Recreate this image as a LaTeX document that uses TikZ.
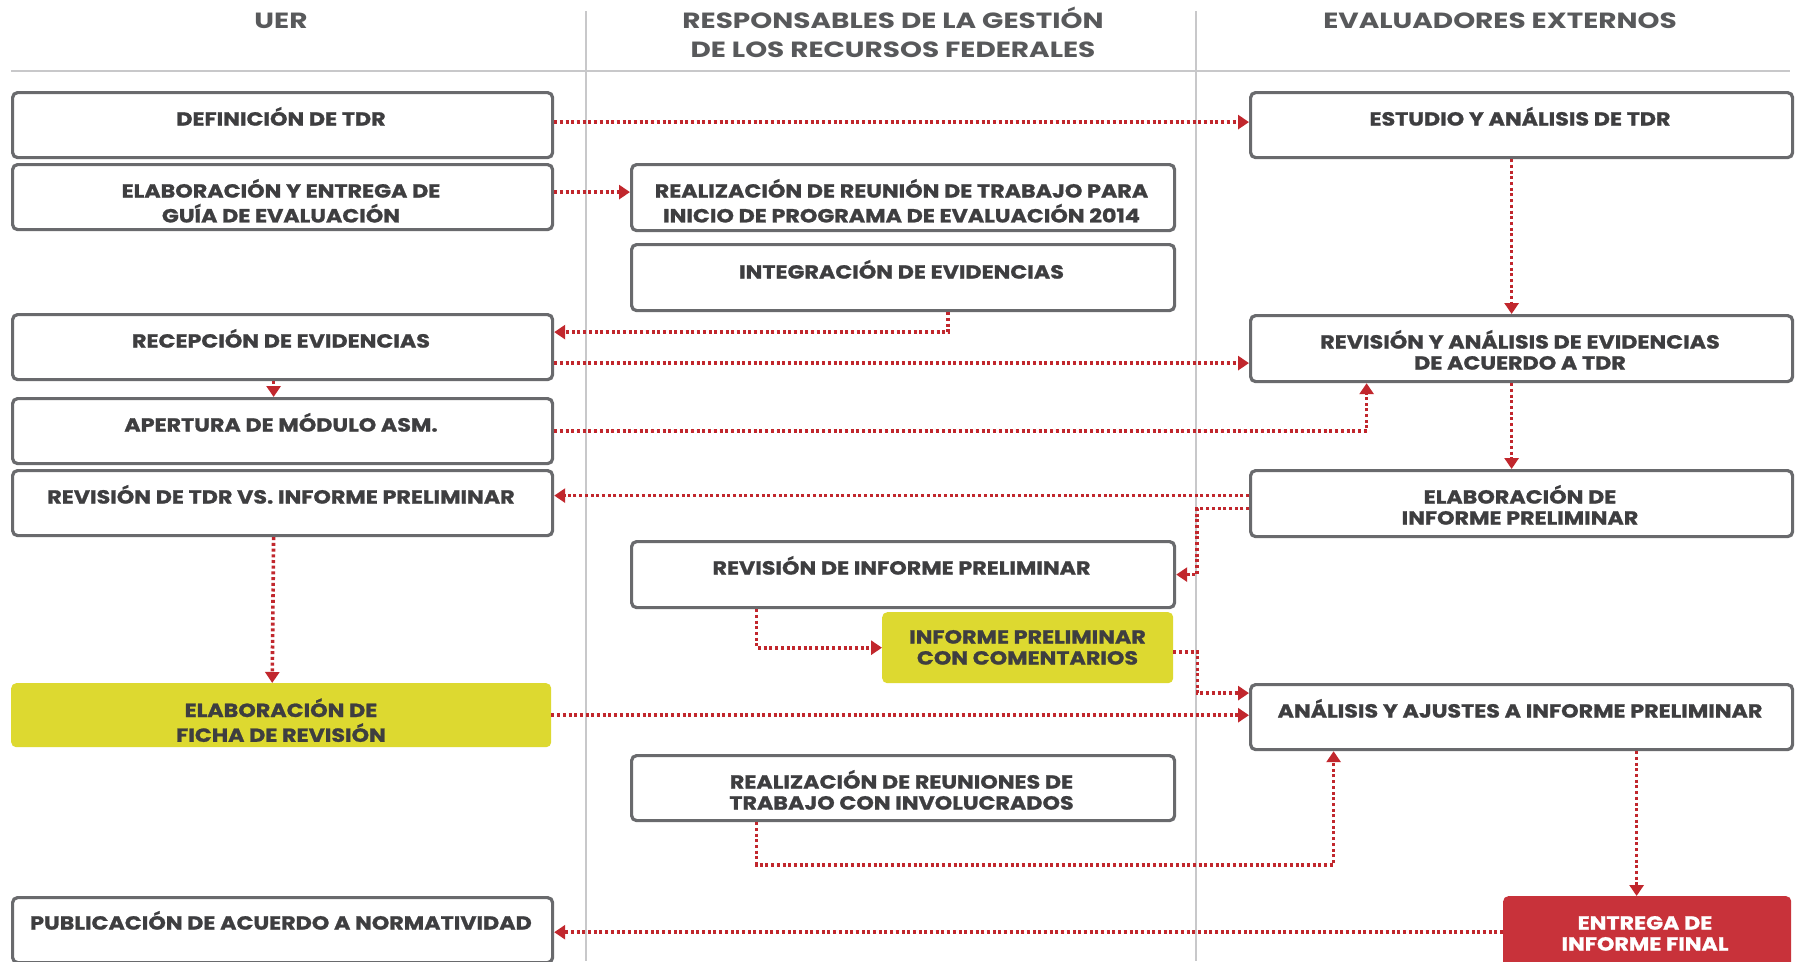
\documentclass[tikz,border=0pt]{standalone}
\usepackage{fontspec}
\setmainfont{Poppins}
\newfontfamily\bodyfont{Poppins}[FakeStretch=1.17, BoldFeatures={FakeBold=1.2}]
\newfontfamily\hdrfont{Poppins}[FakeStretch=1.27]
\usetikzlibrary{arrows.meta,calc}
\definecolor{boxgray}{RGB}{105,106,109}
\definecolor{txtgray}{RGB}{62,62,64}
\definecolor{hdrgray}{RGB}{88,89,91}
\definecolor{rulegray}{RGB}{200,200,202}
\definecolor{flowred}{RGB}{193,39,45}
\definecolor{boxyellow}{RGB}{221,217,48}
\definecolor{boxred}{RGB}{200,50,58}
\newcommand\mylines[1]{\begin{tabular}[t]{@{}c@{}}#1\end{tabular}}
\begin{document}
\begin{tikzpicture}[x=1pt,y=-1pt,
  stepbox/.style={draw=boxgray, line width=3.2pt, rounded corners=5pt, fill=white, inner sep=0pt, anchor=north west},
  ybox/.style={fill=boxyellow, rounded corners=5pt, inner sep=0pt, anchor=north west},
  rbox/.style={fill=boxred, rounded corners=5pt, inner sep=0pt, anchor=north west},
  lbl/.style={font=\bodyfont\fontsize{19}{21}\selectfont\bfseries, text=txtgray, anchor=base, inner sep=0pt},
  wlbl/.style={lbl, text=white},
  hdr/.style={font=\hdrfont\fontsize{22}{29}\selectfont\bfseries, text=hdrgray, anchor=base, inner sep=0pt},
  divider/.style={draw=rulegray, line width=2.5pt},
  flow/.style={draw=flowred, line width=3.6pt, dash pattern=on 3pt off 2.7pt, -{Triangle[length=11pt,width=14pt]}},
]
\useasboundingbox (0,0) rectangle (1796,961);
\clip (0,0) rectangle (1796,961);
\fill[white] (0,0) rectangle (1796,961);

% headers and dividers
\node[hdr] (h1) at (281,28) {UER};
\node[hdr] (h2) at (893,28) {\mylines{RESPONSABLES DE LA GESTIÓN\\DE LOS RECURSOS FEDERALES}};
\node[hdr] (h3) at (1500,28) {EVALUADORES EXTERNOS};
\coordinate (r1) at (11,71);
\coordinate (r2) at (1790,71);
\coordinate (v1t) at (586,11);
\coordinate (v1b) at (586,961);
\coordinate (v2t) at (1196,11);
\coordinate (v2b) at (1196,961);
\draw[divider] (r1) -- (r2);
\draw[divider] (v1t) -- (v1b);
\draw[divider] (v2t) -- (v2b);

% left column
\node[stepbox, minimum width=540pt, minimum height=65pt] (def) at (11,91) {};
\node[stepbox, minimum width=540pt, minimum height=65pt] (elab) at (11,163) {};
\node[stepbox, minimum width=540pt, minimum height=65pt] (rec) at (11,313) {};
\node[stepbox, minimum width=540pt, minimum height=65pt] (apert) at (11,397) {};
\node[stepbox, minimum width=540pt, minimum height=65pt] (revtdr) at (11,469) {};
\node[ybox, minimum width=540pt, minimum height=64pt] (ficha) at (11,683) {};
\node[stepbox, minimum width=540pt, minimum height=65pt] (publ) at (11,896) {};
% middle column
\node[stepbox, minimum width=543pt, minimum height=66pt] (reunion) at (630,163) {};
\node[stepbox, minimum width=543pt, minimum height=66pt] (integ) at (630,243) {};
\node[stepbox, minimum width=543pt, minimum height=66pt] (revinf) at (630,540) {};
\node[ybox, minimum width=291pt, minimum height=71pt] (coment) at (882,612) {};
\node[stepbox, minimum width=543pt, minimum height=65pt] (reunis) at (630,754) {};
% right column
\node[stepbox, minimum width=542pt, minimum height=65pt] (est) at (1249,91) {};
\node[stepbox, minimum width=542pt, minimum height=66pt] (revev) at (1249,314) {};
\node[stepbox, minimum width=542pt, minimum height=66pt] (elabinf) at (1249,469) {};
\node[stepbox, minimum width=542pt, minimum height=65pt] (anal) at (1249,683) {};
\node[rbox, minimum width=288pt, minimum height=72pt] (entrega) at (1503,896) {};

% labels
\node[lbl] (tdef) at (281,125.6) {DEFINICIÓN DE TDR};
\node[lbl] (telab) at (281,197.6) {\mylines{ELABORACIÓN Y ENTREGA DE\\GUÍA DE EVALUACIÓN}};
\node[lbl] (trec) at (281,347.6) {RECEPCIÓN DE EVIDENCIAS};
\node[lbl] (tapert) at (281,431.6) {APERTURA DE MÓDULO ASM.};
\node[lbl] (trevtdr) at (281,503.6) {REVISIÓN DE TDR VS. INFORME PRELIMINAR};
\node[lbl] (tficha) at (281,717) {\mylines{ELABORACIÓN DE\\FICHA DE REVISIÓN}};
\node[lbl] (tpubl) at (281,929.6) {PUBLICACIÓN DE ACUERDO A NORMATIVIDAD};
\node[lbl] (treunion) at (901.5,197.6) {\mylines{REALIZACIÓN DE REUNIÓN DE TRABAJO PARA\\INICIO DE PROGRAMA DE EVALUACIÓN 2014}};
\node[lbl] (tinteg) at (901.5,278.6) {INTEGRACIÓN DE EVIDENCIAS};
\node[lbl] (trevinf) at (901.5,574.6) {REVISIÓN DE INFORME PRELIMINAR};
\node[lbl] (tcoment) at (1027.5,643.6) {\mylines{INFORME PRELIMINAR\\CON COMENTARIOS}};
\node[lbl] (treunis) at (901.5,788.6) {\mylines{REALIZACIÓN DE REUNIONES DE\\TRABAJO CON INVOLUCRADOS}};
\node[lbl] (test) at (1520,125.6) {ESTUDIO Y ANÁLISIS DE TDR};
\node[lbl] (trevev) at (1520,348.6) {\mylines{REVISIÓN Y ANÁLISIS DE EVIDENCIAS\\DE ACUERDO A TDR}};
\node[lbl] (telabinf) at (1520,503.6) {\mylines{ELABORACIÓN DE\\INFORME PRELIMINAR}};
\node[lbl] (tanal) at (1520,717.6) {ANÁLISIS Y AJUSTES A INFORME PRELIMINAR};
\node[wlbl] (tentrega) at (1645,929.6) {\mylines{ENTREGA DE\\INFORME FINAL}};

% connectors
\draw[flow] ([yshift=3pt]def.east) -- ([yshift=3pt]def.east -| est.west);
\draw[flow] ([yshift=5pt]elab.east) -- ([yshift=5pt]elab.east -| reunion.west);
\draw[flow] ([xshift=-10pt]est.south) -- ([xshift=-10pt]revev.north);
\draw[flow] ([xshift=45pt]integ.south) |- ([yshift=15pt]rec.east);
\draw[flow] ([yshift=-16pt]rec.east) -- ([yshift=-16pt]rec.east -| revev.west);
\draw[flow] ([xshift=-9pt]rec.south) -- ([xshift=-9pt]apert.north);
\draw[flow] (apert.east) -| ([xshift=-155pt]revev.south);
\draw[flow] ([xshift=-10pt]revev.south) -- ([xshift=-10pt]elabinf.north);
\draw[flow] ([yshift=8pt]elabinf.west) -- ([yshift=8pt]elabinf.west -| revtdr.east);
\draw[flow] ([yshift=-5pt]elabinf.west) -- ++(-52,0) |- (revinf.east);
\draw[flow] ([xshift=-9pt]revtdr.south) -- ([xshift=-9pt]ficha.north);
\draw[flow] ([xshift=-146.5pt]revinf.south) |- (coment.west);
\draw[flow] ([yshift=-4pt]coment.east) -- ++(24,0) |- ([yshift=24pt]anal.west);
\draw[flow] (ficha.east) -- (ficha.east -| anal.west);
\draw[flow] ([xshift=-146.5pt]reunis.south) -- ++(0,42.5) -| ([xshift=-188pt]anal.south);
\draw[flow] ([xshift=115pt]anal.south) -- ([xshift=115pt]anal.south |- entrega.north);
\draw[flow] (entrega.west) -- (entrega.west -| publ.east);
\end{tikzpicture}
\end{document}
